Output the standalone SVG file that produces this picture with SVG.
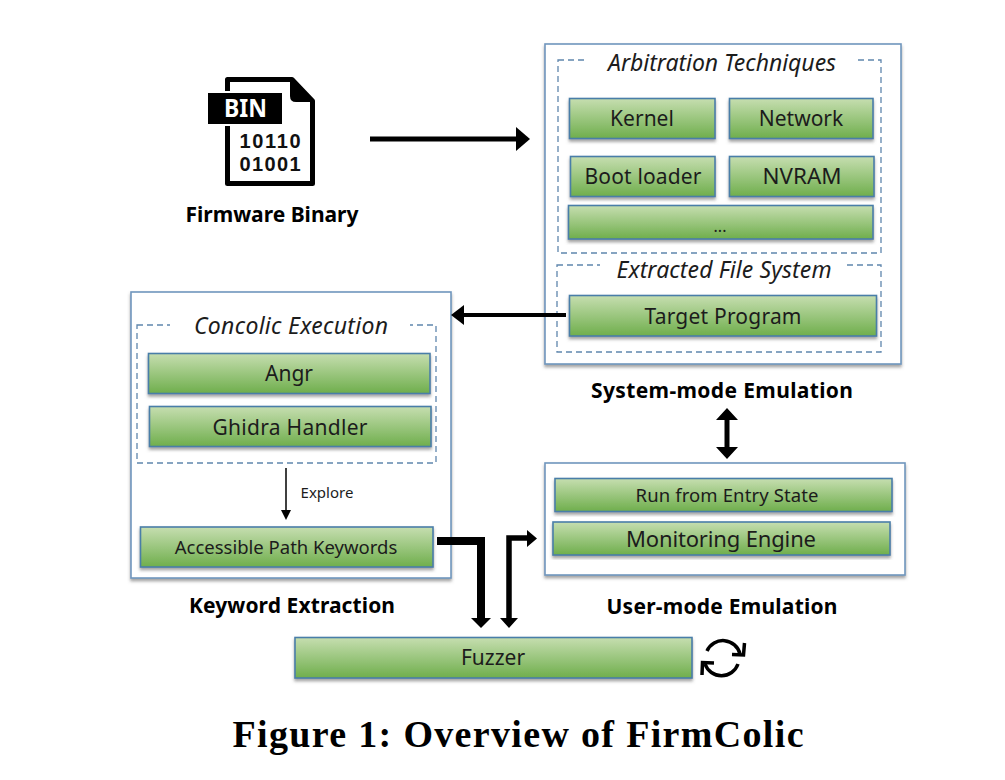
<svg xmlns="http://www.w3.org/2000/svg" width="1005" height="780" viewBox="0 0 1005 780">
<style>
text{font-family:"Noto Sans","Open Sans","Liberation Sans",sans-serif;text-anchor:middle;fill:#1c1c1c}
.panel{fill:#fff;stroke:#7096bd;stroke-width:1.6;filter:url(#sh)}
.dash{fill:none;stroke:#5f86ad;stroke-width:1.3;stroke-dasharray:6 4}
.box{fill:url(#g);stroke:#4a7ea8;stroke-width:1.6;filter:url(#sh)}
.t{font-size:21px}
.it{font-size:23px;font-style:italic}
.b{font-size:21px;font-weight:700;fill:#000}
.gap{fill:#fff;stroke:none}
.c{fill:none;stroke:#000}
</style>
<defs>
<linearGradient id="g" x1="0" y1="0" x2="0" y2="1"><stop offset="0" stop-color="#c6deb0"/><stop offset="1" stop-color="#6fae4c"/></linearGradient>
<filter id="sh" x="-5%" y="-10%" width="110%" height="125%"><feDropShadow dx="0" dy="2.5" stdDeviation="1.8" flood-color="#555" flood-opacity=".55"/></filter>
</defs>
<rect width="1005" height="780" fill="#fff"/>
<g id="firmware-binary">
<path d="M227.500 79.500H292L312.500 101V183.500H227.500Z" fill="#fff" stroke="#000" stroke-width="5" stroke-linejoin="round"/>
<path d="M290 78L314 102H296Q290 102 290 96Z" fill="#000"/>
<rect x="206" y="91" width="78" height="35" fill="#fff"/>
<rect x="208" y="93" width="74" height="31" fill="#000"/>
<text x="245.500" y="117" font-size="25" font-weight="700" textLength="43" lengthAdjust="spacingAndGlyphs" style="fill:#fff">BIN</text>
<text x="270" y="148" font-size="20" font-weight="700" textLength="61" style="fill:#111;font-family:'Liberation Sans',sans-serif">10110</text>
<text x="270" y="171" font-size="20" font-weight="700" textLength="61" style="fill:#111;font-family:'Liberation Sans',sans-serif">01001</text>
<text class="b" x="272" y="222" textLength="173">Firmware Binary</text>
</g>
<g id="system-mode-emulation">
<rect class="panel" x="545" y="44" width="356" height="320"/>
<rect class="dash" x="558" y="60" width="323" height="193"/>
<rect class="gap" x="588" y="50" width="269" height="22"/>
<text class="it" x="722" y="71" textLength="228">Arbitration Techniques</text>
<rect class="dash" x="557" y="265" width="324" height="87"/>
<rect class="gap" x="600" y="258" width="245" height="22"/>
<text class="it" x="724" y="278" textLength="215">Extracted File System</text>
<text class="b" x="722" y="398" textLength="262">System-mode Emulation</text>
</g>
<g id="kernel"><rect class="box" x="569.500" y="98.500" width="145.500" height="40"/><text class="t" x="642" y="126">Kernel</text></g>
<g id="network"><rect class="box" x="729.500" y="98.500" width="143.500" height="40"/><text class="t" x="801" y="126">Network</text></g>
<g id="boot-loader"><rect class="box" x="570.500" y="156.500" width="144.500" height="40"/><text class="t" x="643" y="184" textLength="117">Boot loader</text></g>
<g id="nvram"><rect class="box" x="729.500" y="156.500" width="144.500" height="40"/><text class="t" x="802" y="184" textLength="79" lengthAdjust="spacingAndGlyphs">NVRAM</text></g>
<g id="more"><rect class="box" x="568.500" y="205.500" width="304.500" height="33.500"/><text x="720" y="232" font-size="16">...</text></g>
<g id="target-program"><rect class="box" x="569.500" y="295.500" width="307" height="40.500"/><text class="t" x="723" y="324" textLength="157">Target Program</text></g>
<g id="keyword-extraction">
<rect class="panel" x="131" y="292" width="320" height="286"/>
<rect class="dash" x="137" y="325" width="299" height="138"/>
<rect class="gap" x="170" y="315" width="240" height="22"/>
<text class="it" x="291" y="334" textLength="194">Concolic Execution</text>
<text x="327" y="498" font-size="15">Explore</text>
<text class="b" x="292" y="613" textLength="206">Keyword Extraction</text>
</g>
<g id="angr"><rect class="box" x="148.500" y="353.500" width="281.500" height="40"/><text class="t" x="289" y="381">Angr</text></g>
<g id="ghidra-handler"><rect class="box" x="149.500" y="406.500" width="281.500" height="40"/><text class="t" x="290" y="435" textLength="155">Ghidra Handler</text></g>
<g id="accessible-path-keywords"><rect class="box" x="140.500" y="527" width="292.500" height="40"/><text x="286" y="554" font-size="18.500">Accessible Path Keywords</text></g>
<g id="user-mode-emulation">
<rect class="panel" x="545" y="463" width="360" height="112"/>
<text class="b" x="722" y="614" textLength="231">User-mode Emulation</text>
</g>
<g id="run-from-entry-state"><rect class="box" x="555" y="478.500" width="337" height="33"/><text x="727" y="502" font-size="18.500" textLength="183">Run from Entry State</text></g>
<g id="monitoring-engine"><rect class="box" x="553" y="522" width="337" height="33"/><text x="721" y="547" font-size="22" textLength="190">Monitoring Engine</text></g>
<g id="fuzzer">
<rect class="box" x="295" y="637.500" width="397" height="40.500"/>
<text class="t" x="493" y="665">Fuzzer</text>
<path class="c" stroke-width="3.500" d="M707 651A17.500 17.500 0 0 1 740 654M738 664A17.500 17.500 0 0 1 705 664"/>
<path class="c" stroke-width="3.500" d="M732 654.500L743.500 655L744.500 643M714 663L702.500 662.500L702 675"/>
</g>
<g id="connectors">
<path class="c" stroke-width="5" d="M370 139H518"/><path d="M516 127L530 139L516 151Z"/>
<path class="c" stroke-width="4" d="M566 315H462"/><path d="M464 305L451 315L464 325Z"/>
<path class="c" stroke-width="5" d="M727 418V449"/><path d="M716 420L727 408L738 420ZM716 447L727 459L738 447Z"/>
<path class="c" stroke-width="1.500" d="M286 468V512"/><path d="M281 510L286 520L291 510Z"/>
<path class="c" stroke-width="8" d="M437 541H481V620"/><path d="M471 618L481 628L491 618Z"/>
<path class="c" stroke-width="5.500" d="M509 620V538H528"/><path d="M500 618L509 628L518 618ZM527 530L537 538.500L527 547Z"/>
</g>
<text id="caption" x="518" y="747" font-size="38" font-weight="700" textLength="571" style="font-family:'Liberation Serif',serif;fill:#000">Figure 1: Overview of FirmColic</text>
</svg>
